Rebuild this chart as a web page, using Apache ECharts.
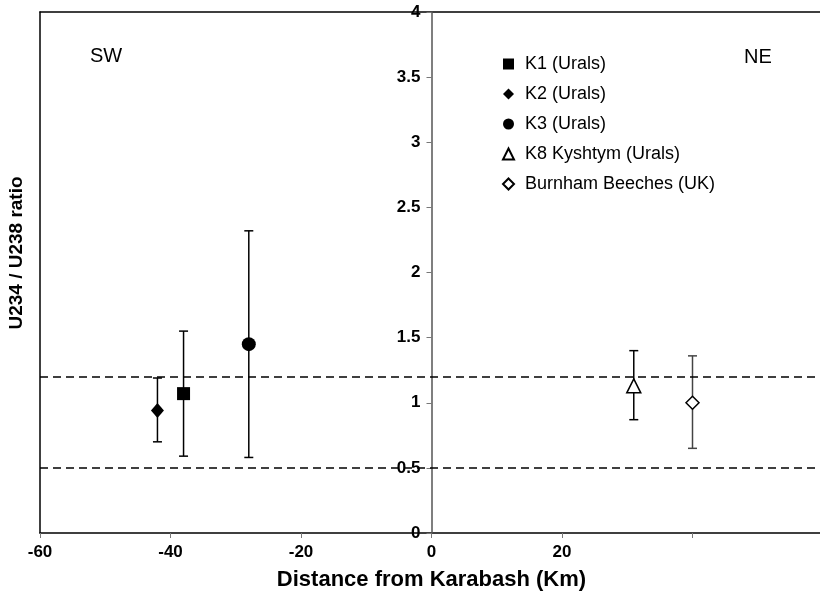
<!DOCTYPE html>
<html>
<head>
<meta charset="utf-8">
<script src="https://cdn.jsdelivr.net/npm/echarts@6/dist/echarts.min.js"></script>
<style>
html,body{margin:0;padding:0;background:#fff;}
#chart{width:820px;height:596px;}
</style>
</head>
<body>
<div id="chart"></div>
<script>
// ---- data ----
const names = ['K1 (Urals)', 'K2 (Urals)', 'K3 (Urals)', 'K8 Kyshtym (Urals)', 'Burnham Beeches (UK)'];
const distance = [-38, -42, -28, 31, 40];
const ratio = [1.07, 0.94, 1.45, 1.13, 1.0];
const upper = [1.55, 1.19, 2.32, 1.40, 1.36];
const lower = [0.59, 0.70, 0.58, 0.87, 0.65];
const refLines = [1.2, 0.5];
const xTicksShown = [-60, -40, -20, 0, 20];
const sideLabels = ['SW', 'NE'];
const xRange = [-60, 60];
const yRange = [0, 4];

// ---- styles ----
const FONT = "'Liberation Sans', Arial, sans-serif";
const symbols = ['rect', 'diamond', 'circle', 'triangle', 'diamond'];
const symbolSizes = [13, [13, 15], 14, 14, 13];
const fills = ['#000', '#000', '#000', '#fff', '#fff'];
const barColors = ['#000', '#000', '#000', '#000', '#444'];

const chart = echarts.init(document.getElementById('chart'), null, {renderer: 'canvas'});

const errData = distance.map((d, i) => [d, lower[i], upper[i], i]);

const series = [{
  type: 'custom',
  name: 'err',
  z: 1,
  silent: true,
  data: errData,
  renderItem: function (params, api) {
    const x = api.value(0), lo = api.value(1), hi = api.value(2), idx = api.value(3);
    const t = api.coord([x, hi]);
    const b = api.coord([x, lo]);
    const hw = 4.5;
    const st = {stroke: barColors[idx], lineWidth: 1.5};
    return {
      type: 'group',
      children: [
        {type: 'line', shape: {x1: t[0], y1: t[1], x2: b[0], y2: b[1]}, style: st},
        {type: 'line', shape: {x1: t[0] - hw, y1: t[1], x2: t[0] + hw, y2: t[1]}, style: st},
        {type: 'line', shape: {x1: b[0] - hw, y1: b[1], x2: b[0] + hw, y2: b[1]}, style: st}
      ]
    };
  },
  markLine: {
    silent: true,
    symbol: 'none',
    label: {show: false},
    lineStyle: {color: '#000', type: [8, 5], width: 1.7},
    data: refLines.map(v => ({yAxis: v}))
  }
}];

names.forEach((n, i) => {
  series.push({
    type: 'scatter',
    name: n,
    z: 3,
    symbol: symbols[i],
    symbolSize: symbolSizes[i],
    itemStyle: {color: fills[i], borderColor: '#000', borderWidth: fills[i] === '#fff' ? 1.5 : 0, opacity: 1},
    data: [[distance[i], ratio[i]]]
  });
});

const option = {
  animation: false,
  backgroundColor: '#fff',
  grid: {left: 40, width: 783, top: 12, bottom: 63, show: false, containLabel: false, outerBoundsMode: 'none'},
  xAxis: [{
    type: 'value',
    min: xRange[0], max: xRange[1], interval: 20,
    name: 'Distance from Karabash (Km)',
    nameLocation: 'middle',
    nameGap: 36,
    nameTextStyle: {fontFamily: FONT, fontWeight: 'bold', fontSize: 22, color: '#000'},
    axisLine: {show: true, onZero: false, lineStyle: {color: '#000', width: 1.5}},
    axisTick: {show: true, inside: false, length: 5, lineStyle: {color: '#777'}},
    axisLabel: {
      fontFamily: FONT, fontWeight: 'bold', fontSize: 17, color: '#000', margin: 11,
      formatter: v => xTicksShown.indexOf(v) >= 0 ? String(v) : ''
    },
    splitLine: {show: false}
  }, {
    type: 'value', position: 'top',
    min: xRange[0], max: xRange[1],
    axisLine: {show: true, onZero: false, lineStyle: {color: '#000', width: 1.5}},
    axisTick: {show: false}, axisLabel: {show: false}, splitLine: {show: false}
  }],
  yAxis: [{
    type: 'value',
    min: yRange[0], max: yRange[1], interval: 0.5,
    position: 'left',
    offset: 0,
    z: 2,
    axisLine: {show: true, onZero: false, lineStyle: {color: '#555', width: 1.5}},
    axisTick: {show: true, inside: false, length: 5, lineStyle: {color: '#777'}},
    axisLabel: {fontFamily: FONT, fontWeight: 'bold', fontSize: 17, color: '#000', margin: 11},
    splitLine: {show: false}
  }, {
    type: 'value', position: 'left',
    min: yRange[0], max: yRange[1],
    axisLine: {show: true, onZero: false, lineStyle: {color: '#000', width: 1.5}},
    axisTick: {show: false}, axisLabel: {show: false}, splitLine: {show: false}
  }],
  legend: {
    orient: 'vertical',
    left: 497, top: 50,
    itemWidth: 11, itemHeight: 11,
    itemGap: 12,
    data: names,
    textStyle: {fontFamily: FONT, fontSize: 18, color: '#000', lineHeight: 18, padding: [0, 0, 0, 6]}
  },
  graphic: [
    {type: 'text', left: 90, top: 46, style: {text: sideLabels[0], font: '20px ' + FONT, fill: '#000'}},
    {type: 'text', left: 744, top: 47, style: {text: sideLabels[1], font: '20px ' + FONT, fill: '#000'}},
    {type: 'text', x: 17, y: 253, rotation: Math.PI / 2,
      style: {text: 'U234 / U238 ratio', font: 'bold 19px ' + FONT, fill: '#000', align: 'center', verticalAlign: 'middle'}}
  ],
  series: series
};
chart.setOption(option);

// Move the main y axis to x = 0 using the library's own x scale
const zeroPx = chart.convertToPixel({xAxisIndex: 0}, 0);
const leftPx = chart.convertToPixel({xAxisIndex: 0}, xRange[0]);
chart.setOption({yAxis: [{offset: -(zeroPx - leftPx)}, {}]});
</script>
</body>
</html>
